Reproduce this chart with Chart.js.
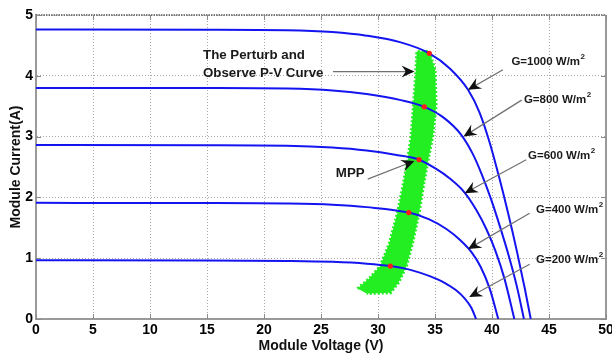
<!DOCTYPE html>
<html>
<head>
<meta charset="utf-8">
<script src="https://cdn.jsdelivr.net/npm/chart.js@4.4.1/dist/chart.umd.min.js"></script>
<style>
  html, body { margin: 0; padding: 0; background: #fff; }
</style>
</head>
<body>
<canvas id="ivChart" width="612" height="358"></canvas>
<script>
// irradiance levels, W/m2
const irradiance = [1000, 800, 600, 400, 200];

// I-V curves: module voltage (V) / module current (A)
const v1000 = [0, 15, 22, 26, 29, 32, 34.5, 36.3, 37.9, 38.9, 39.8, 40.6, 41.4, 42.2, 42.9, 43.4];
const i1000 = [4.76, 4.758, 4.75, 4.72, 4.66, 4.55, 4.37, 4.12, 3.77, 3.40, 2.90, 2.35, 1.75, 1.10, 0.48, 0];

const v800 = [0, 15, 22, 26, 29, 32, 34.06, 35.7, 37.3, 38.3, 39.1, 39.9, 40.7, 41.5, 42.2, 42.8];
const i800 = [3.80, 3.798, 3.79, 3.76, 3.70, 3.60, 3.49, 3.32, 3.03, 2.72, 2.38, 1.98, 1.52, 1.02, 0.52, 0];

const v600 = [0, 15, 22, 26, 29, 31.5, 33.6, 35.0, 36.3, 37.6, 38.6, 39.5, 40.3, 41.1, 41.96];
const i600 = [2.86, 2.858, 2.85, 2.82, 2.77, 2.70, 2.62, 2.48, 2.31, 2.08, 1.80, 1.48, 1.12, 0.66, 0];

const v400 = [0, 15, 22, 26, 29, 32.7, 34.5, 36.0, 37.2, 38.2, 39.0, 39.8, 40.55];
const i400 = [1.91, 1.908, 1.90, 1.88, 1.84, 1.75, 1.64, 1.48, 1.30, 1.10, 0.86, 0.50, 0];

const v200 = [0, 15, 22, 26, 29, 31.08, 33.0, 34.6, 35.8, 36.8, 37.6, 38.2, 38.6];
const i200 = [0.965, 0.963, 0.955, 0.94, 0.91, 0.87, 0.80, 0.70, 0.60, 0.48, 0.34, 0.18, 0];

// maximum power points
const mppV = [34.5, 34.06, 33.6, 32.7, 31.08];
const mppI = [4.37, 3.49, 2.62, 1.75, 0.87];

// envelope of the perturb & observe operating points
const poV = [28.2, 29.2, 30.2, 31.0, 31.7, 32.2, 32.6, 32.9, 33.1, 33.3, 33.4,
             34.5, 35.0, 35.1, 34.8, 34.4, 34.0, 33.6, 33.1, 32.5, 31.8, 31.1, 29.0];
const poI = [0.50, 0.66, 0.87, 1.25, 1.74, 2.20, 2.62, 3.00, 3.50, 4.00, 4.40,
             4.40, 4.10, 3.50, 3.00, 2.62, 2.20, 1.74, 1.30, 0.87, 0.60, 0.43, 0.42];

const curvesV = [v1000, v800, v600, v400, v200];
const curvesI = [i1000, i800, i600, i400, i200];

// callouts: text position, arrow start, arrow tip (axis units)
const notes = [
  { lines: ['The Perturb and', 'Observe P-V Curve'], at: [14.65, 4.34], from: [26.05, 4.07], to: [33.2, 4.07] },
  { lines: ['MPP'], at: [26.3, 2.40], from: [29.1, 2.30], to: [33.2, 2.60] },
  { g: irradiance[0], at: [41.7, 4.23], from: [40.96, 4.10], to: [37.9, 3.77] },
  { g: irradiance[1], at: [42.8, 3.60], from: [42.6, 3.60], to: [37.5, 3.00] },
  { g: irradiance[2], at: [43.16, 2.69], from: [43.0, 2.62], to: [37.6, 2.07] },
  { g: irradiance[3], at: [43.86, 1.79], from: [43.3, 1.74], to: [37.9, 1.15] },
  { g: irradiance[4], at: [43.86, 0.98], from: [43.3, 0.90], to: [38.0, 0.36] }
];

const toPoints = (vs, is) => vs.map((v, k) => ({ x: v, y: is[k] }));

const datasets = [];
datasets.push({
  label: 'MPP',
  data: toPoints(mppV, mppI),
  showLine: false,
  pointRadius: 2.6,
  pointBackgroundColor: '#ff1a1a',
  pointBorderWidth: 0,
  order: 0
});
curvesV.forEach((vs, k) => {
  datasets.push({
    label: 'G=' + irradiance[k],
    data: toPoints(vs, curvesI[k]),
    showLine: true,
    borderColor: '#1414f0',
    borderWidth: 2,
    pointRadius: 0,
    cubicInterpolationMode: 'monotone',
    order: 1
  });
});
datasets.push({
  label: 'P&O',
  data: toPoints(poV, poI),
  showLine: true,
  tension: 0,
  fill: 'shape',
  borderColor: '#22ee22',
  backgroundColor: '#22ee22',
  borderWidth: 3,
  borderDash: [2, 2],
  pointRadius: 0,
  order: 2
});

const tickFont = { family: 'Liberation Sans', weight: 'bold', size: 14 };
const titleFont = { family: 'Liberation Sans', weight: 'bold', size: 14 };

// box frame with inward ticks
const framePlugin = {
  id: 'frame',
  beforeDatasetsDraw(chart) {
    const { ctx, chartArea: a, scales: { x, y } } = chart;
    ctx.save();
    ctx.strokeStyle = '#9a9a9a';
    ctx.lineWidth = 2;
    ctx.beginPath();
    ctx.moveTo(a.right, a.top);
    ctx.lineTo(a.right, a.bottom);
    ctx.stroke();
    ctx.strokeStyle = '#555';
    ctx.lineWidth = 1.5;
    ctx.setLineDash([1.5, 1]);
    ctx.beginPath();
    ctx.moveTo(a.left, a.top);
    ctx.lineTo(a.right, a.top);
    ctx.stroke();
    ctx.setLineDash([]);
    ctx.strokeStyle = '#8a8a8a';
    ctx.lineWidth = 1;
    x.ticks.forEach(t => {
      const px = Math.round(x.getPixelForValue(t.value)) + 0.5;
      ctx.beginPath();
      ctx.moveTo(px, a.bottom); ctx.lineTo(px, a.bottom - 5);
      ctx.moveTo(px, a.top); ctx.lineTo(px, a.top + 5);
      ctx.stroke();
    });
    y.ticks.forEach(t => {
      const py = Math.round(y.getPixelForValue(t.value)) + 0.5;
      ctx.beginPath();
      ctx.moveTo(a.left, py); ctx.lineTo(a.left + 5, py);
      ctx.moveTo(a.right, py); ctx.lineTo(a.right - 5, py);
      ctx.stroke();
    });
    ctx.restore();
  }
};

function arrowHead(ctx, x1, y1, x2, y2) {
  const ang = Math.atan2(y2 - y1, x2 - x1);
  ctx.save();
  ctx.translate(x2, y2);
  ctx.rotate(ang);
  ctx.beginPath();
  ctx.moveTo(0, 0);
  ctx.lineTo(-13, -6);
  ctx.quadraticCurveTo(-9, -1, -9, 0);
  ctx.quadraticCurveTo(-9, 1, -13, 6);
  ctx.closePath();
  ctx.fill();
  ctx.restore();
}

const notesPlugin = {
  id: 'notes',
  afterDatasetsDraw(chart) {
    const { ctx, scales: { x, y } } = chart;
    ctx.save();
    notes.forEach(n => {
      const x1 = x.getPixelForValue(n.from[0]), y1 = y.getPixelForValue(n.from[1]);
      const x2 = x.getPixelForValue(n.to[0]), y2 = y.getPixelForValue(n.to[1]);
      ctx.strokeStyle = '#707070';
      ctx.lineWidth = 1.2;
      ctx.beginPath();
      ctx.moveTo(x1, y1);
      ctx.lineTo(x2 - (x2 - x1) * 0.02, y2 - (y2 - y1) * 0.02);
      ctx.stroke();
      ctx.fillStyle = '#111';
      arrowHead(ctx, x1, y1, x2, y2);

      const tx = x.getPixelForValue(n.at[0]);
      const ty = y.getPixelForValue(n.at[1]);
      ctx.textBaseline = 'middle';
      ctx.textAlign = 'left';
      ctx.fillStyle = '#1a1a1a';
      if (n.g) {
        ctx.font = 'bold 11.5px "Liberation Sans"';
        const base = 'G=' + n.g + ' W/m';
        ctx.fillText(base, tx, ty);
        const w = ctx.measureText(base).width;
        ctx.font = 'bold 8px "Liberation Sans"';
        ctx.fillText('2', tx + w + 0.5, ty - 5);
      } else {
        ctx.font = 'bold 13.3px "Liberation Sans"';
        n.lines.forEach((s, k) => ctx.fillText(s, tx, ty + k * 18.3));
      }
    });
    ctx.restore();
  }
};

new Chart(document.getElementById('ivChart'), {
  type: 'scatter',
  data: { datasets },
  options: {
    responsive: false,
    animation: false,
    layout: { padding: { top: 15, right: 6, left: 0, bottom: 0 } },
    plugins: {
      legend: { display: false },
      tooltip: { enabled: false }
    },
    scales: {
      x: {
        type: 'linear',
        min: 0,
        max: 50,
        ticks: { stepSize: 5, padding: 3, color: '#000', font: tickFont },
        grid: { color: '#a8a8a8', lineWidth: 1, drawTicks: false },
        border: { color: '#9a9a9a', width: 2, dash: [1, 2] },
        title: { display: true, text: 'Module Voltage (V)', color: '#111', font: titleFont, padding: { top: 0, bottom: 3 } },
        afterFit(s) { s.height = 39; s.paddingLeft = 0; s.paddingRight = 0; }
      },
      y: {
        type: 'linear',
        min: 0,
        max: 5,
        ticks: { stepSize: 1, padding: 3, color: '#000', font: tickFont },
        grid: { color: '#a8a8a8', lineWidth: 1, drawTicks: false },
        border: { color: '#9a9a9a', width: 2, dash: [1, 2] },
        title: { display: true, text: 'Module Current(A)', color: '#111', font: titleFont, padding: { top: 8, bottom: 0 } },
        afterFit(s) { s.width = 36; s.paddingTop = 0; s.paddingBottom = 0; }
      }
    }
  },
  plugins: [framePlugin, notesPlugin]
});
</script>
</body>
</html>
